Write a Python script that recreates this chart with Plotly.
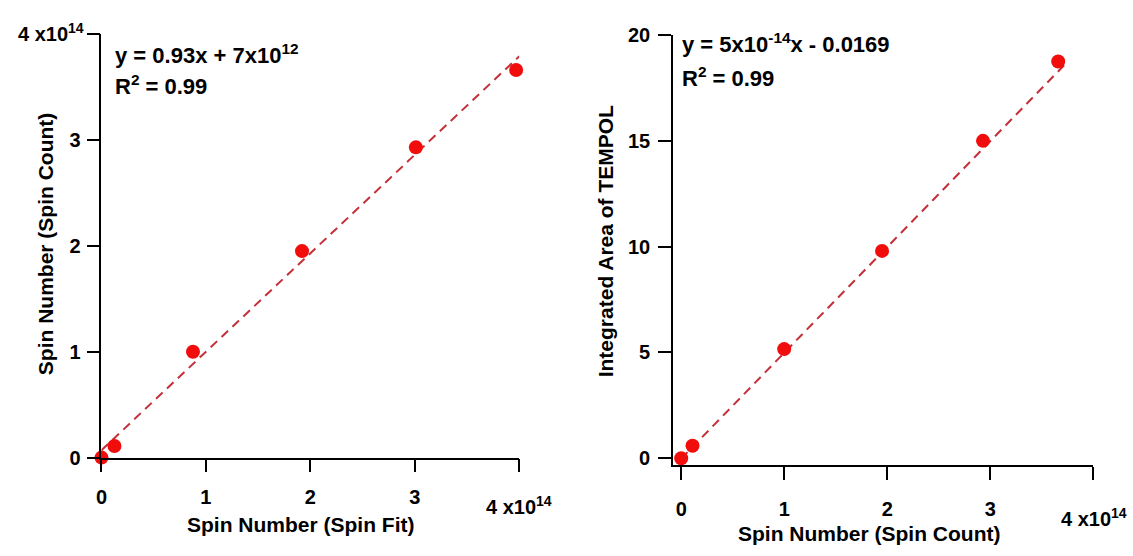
import plotly.graph_objects as go

# ---- data (spin numbers in spins; area in arbitrary units) ----
spin_fit = [0.0, 0.124e14, 0.876e14, 1.92e14, 3.01e14, 3.97e14]
spin_count = [0.0, 0.11e14, 1.00e14, 1.95e14, 2.93e14, 3.66e14]
tempol_area = [0.0, 0.59, 5.16, 9.80, 15.0, 18.75]

fit1_slope, fit1_icpt = 0.93, 7e12
fit2_slope, fit2_icpt = 5e-14, -0.0169
fit1_x = [0.0, 4.0e14]
fit2_x = [0.0, 3.75e14]

x_tickvals = [0, 1e14, 2e14, 3e14, 4e14]
x_ticktext = ["0", "1", "2", "3", ""]
y1_tickvals = [0, 1e14, 2e14, 3e14, 4e14]
y1_ticktext = ["0", "1", "2", "3", ""]
y2_tickvals = [0, 5, 10, 15, 20]
y2_ticktext = ["0", "5", "10", "15", "20"]

W, H = 1133, 556
FONT = "Liberation Sans, Arial, sans-serif"
RED = "#f20d0d"
LINE_RED = "#c4303a"


def b(s):
    return "<b>" + s + "</b>" if s else ""


fig = go.Figure()

# left panel
fig.add_trace(go.Scatter(
    x=fit1_x, y=[fit1_slope * v + fit1_icpt for v in fit1_x],
    mode="lines", line=dict(color=LINE_RED, width=2, dash="9px,6px"),
    xaxis="x", yaxis="y", showlegend=False, hoverinfo="skip"))
fig.add_trace(go.Scatter(
    x=spin_fit, y=spin_count, mode="markers",
    marker=dict(color=RED, size=14), cliponaxis=False,
    xaxis="x", yaxis="y", showlegend=False))

# right panel
fig.add_trace(go.Scatter(
    x=fit2_x, y=[fit2_slope * v + fit2_icpt for v in fit2_x],
    mode="lines", line=dict(color=LINE_RED, width=2, dash="9px,6px"),
    xaxis="x2", yaxis="y2", showlegend=False, hoverinfo="skip"))
fig.add_trace(go.Scatter(
    x=spin_count, y=tempol_area, mode="markers",
    marker=dict(color=RED, size=14), cliponaxis=False,
    xaxis="x2", yaxis="y2", showlegend=False))


def px_x(p):
    return p / W


def px_y(p):
    return 1 - p / H


axis_common = dict(showline=True, linecolor="black", linewidth=1.5,
                   ticks="outside", ticklen=13, tickwidth=1.5, tickcolor="black",
                   showgrid=False, zeroline=False, mirror=False,
                   tickfont=dict(family=FONT, size=20, color="black", weight="bold"))

fig.update_layout(
    width=W, height=H,
    margin=dict(l=0, r=0, t=0, b=0),
    paper_bgcolor="white", plot_bgcolor="white",
    font=dict(family=FONT, color="black"),
    xaxis=dict(domain=[px_x(96), px_x(516)], range=[0, 4e14], anchor="y",
               tickvals=x_tickvals, ticktext=x_ticktext,
               ticklabelstandoff=8, **axis_common),
    yaxis=dict(domain=[px_y(465), px_y(24)], range=[0, 4e14], anchor="x",
               tickvals=y1_tickvals, ticktext=y1_ticktext,
               ticklabelstandoff=2, **axis_common),
    xaxis2=dict(domain=[px_x(670.5), px_x(1093)], range=[-0.08e14, 4e14], anchor="y2",
                tickvals=x_tickvals, ticktext=x_ticktext,
                ticklabelstandoff=12, **axis_common),
    yaxis2=dict(domain=[px_y(473), px_y(25)], range=[-0.33, 20], anchor="x2",
                tickvals=y2_tickvals, ticktext=y2_ticktext,
                ticklabelstandoff=4, **axis_common),
)

ann = []
# exponent labels
ann.append(dict(text=b("4 x10<sup>14</sup>"), x=px_x(80), y=px_y(22), xanchor="right", yanchor="middle", size=20))
ann.append(dict(text=b("4 x10<sup>14</sup>"), x=px_x(516), y=px_y(515), xanchor="center", yanchor="middle", size=20))
ann.append(dict(text=b("4 x10<sup>14</sup>"), x=px_x(1094), y=px_y(527), xanchor="center", yanchor="middle", size=20))
# equations
ann.append(dict(text=b("y = 0.93x + 7x10<sup>12</sup>"), x=px_x(108), y=px_y(45), xanchor="left", yanchor="middle", size=22))
ann.append(dict(text=b("R<sup>2</sup> = 0.99"), x=px_x(108), y=px_y(77), xanchor="left", yanchor="middle", size=22))
ann.append(dict(text=b("y = 5x10<sup>-14</sup>x - 0.0169"), x=px_x(678), y=px_y(33), xanchor="left", yanchor="middle", size=22))
ann.append(dict(text=b("R<sup>2</sup> = 0.99"), x=px_x(678), y=px_y(69), xanchor="left", yanchor="middle", size=22))
# axis titles
ann.append(dict(text=b("Spin Number (Spin Fit)"), x=px_x(296), y=px_y(535), xanchor="center", yanchor="middle", size=21))
ann.append(dict(text=b("Spin Number (Spin Count)"), x=px_x(868), y=px_y(544), xanchor="center", yanchor="middle", size=21))
ann.append(dict(text=b("Spin Number (Spin Count)"), x=px_x(40), y=px_y(243), xanchor="center", yanchor="middle", size=21, textangle=-90))
ann.append(dict(text=b("Integrated Area of TEMPOL"), x=px_x(603), y=px_y(240), xanchor="center", yanchor="middle", size=21, textangle=-90))

for a in ann:
    size = a.pop("size", 20)
    fig.add_annotation(xref="paper", yref="paper", showarrow=False,
                       font=dict(family=FONT, size=size, color="black"), **a)

fig.write_html("out.html")
